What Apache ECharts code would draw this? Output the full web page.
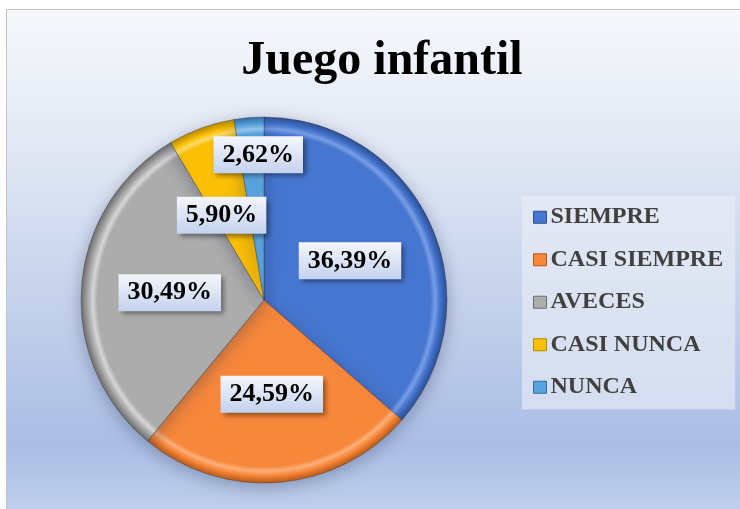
<!DOCTYPE html>
<html>
<head>
<meta charset="utf-8">
<script src="https://cdn.jsdelivr.net/npm/echarts@6/dist/echarts.min.js"></script>
<style>
  html, body { margin: 0; padding: 0; background: #ffffff; }
  #chart { width: 740px; height: 509px; }
</style>
</head>
<body>
<div id="chart"></div>
<script>
// datos del gráfico
const categories = ["SIEMPRE", "CASI SIEMPRE", "AVECES", "CASI NUNCA", "NUNCA"];
const values = [36.39, 24.59, 30.49, 5.90, 2.62];
const colors = ["#4676d0", "#f7873a", "#acacac", "#fbbf05", "#5aa2dc"];
const darkColors = ["#2c4f93", "#b85a18", "#6e6e6e", "#b58900", "#2f6ea5"];
const lightColors = ["#7a9ee6", "#fbb07a", "#d6d6d6", "#ffdc6a", "#94c6ee"];

const cx = 264, cy = 300, r = 183;

function sliceColor(i) {
  return {
    type: "radial", x: cx, y: cy, r: r, global: true,
    colorStops: [
      { offset: 0, color: colors[i] },
      { offset: 0.91, color: colors[i] },
      { offset: 0.935, color: lightColors[i] },
      { offset: 0.96, color: colors[i] },
      { offset: 1, color: darkColors[i] },
    ],
  };
}

const pieData = categories.map((name, i) => ({
  name: name,
  value: values[i],
  itemStyle: { color: sliceColor(i) },
}));

const legendData = categories.map((name, i) => ({
  name: name,
  itemStyle: { color: colors[i], borderColor: darkColors[i], borderWidth: 1 },
}));

const chart = echarts.init(document.getElementById("chart"));
const option = {
  color: colors,
  animation: false,
  graphic: [
    {
      type: "rect",
      z: -10,
      shape: { x: 6.5, y: 9.5, width: 740, height: 510 },
      style: {
        stroke: "#c4c4c4",
        lineWidth: 1,
        fill: new echarts.graphic.LinearGradient(0, 0, 0, 1, [
          { offset: 0, color: "#f6f8fc" },
          { offset: 0.3, color: "#dfe6f3" },
          { offset: 0.85, color: "#aabde4" },
          { offset: 1, color: "#c2d2ec" },
        ]),
      },
    },
  ],
  title: {
    text: "Juego infantil",
    left: 377,
    textAlign: "center",
    top: 33,
    textStyle: {
      fontFamily: "Liberation Serif",
      fontWeight: "bold",
      fontSize: 48,
      color: "#000000",
    },
  },
  legend: {
    orient: "vertical",
    left: 522,
    top: 196,
    padding: [9, 12, 10, 11],
    backgroundColor: "rgba(232,236,246,0.65)",
    itemWidth: 13,
    itemHeight: 12,
    itemGap: 18,
    icon: "rect",
    data: legendData,
    textStyle: {
      fontFamily: "Liberation Serif",
      fontWeight: "bold",
      fontSize: 24,
      lineHeight: 24.5,
      color: "#404040",
      padding: [0, 0, 0, -1],
    },
  },
  series: [
    {
      type: "pie",
      center: [cx, cy],
      radius: [0, r],
      startAngle: 90,
      clockwise: true,
      data: pieData,
      itemStyle: {
        borderColor: "rgba(40,40,60,0.35)",
        borderWidth: 1,
        shadowBlur: 18,
        shadowColor: "rgba(40,50,80,0.35)",
        shadowOffsetY: 4,
      },
      emphasis: { disabled: true },
      labelLine: { show: false },
      label: {
        show: true,
        position: "inside",
        formatter: (p) => p.value.toFixed(2).replace(".", ",") + "%",
        fontFamily: "Liberation Serif",
        fontWeight: "bold",
        fontSize: 26,
        color: "#000000",
        padding: [6, 9, 5, 9],
        backgroundColor: {
          type: "linear", x: 0, y: 0, x2: 0, y2: 1,
          colorStops: [
            { offset: 0, color: "#f4f6fb" },
            { offset: 1, color: "#c4d2ef" },
          ],
        },
        shadowColor: "rgba(0,0,0,0.45)",
        shadowBlur: 5,
        shadowOffsetX: 3,
        shadowOffsetY: 3,
      },
      labelLayout: function (p) {
        if (p.dataIndex === 4) return { dx: 2, dy: -51 };
        if (p.dataIndex === 3) return { dx: -10, dy: 4 };
        return {};
      },
    },
  ],
};
chart.setOption(option);
</script>
</body>
</html>
